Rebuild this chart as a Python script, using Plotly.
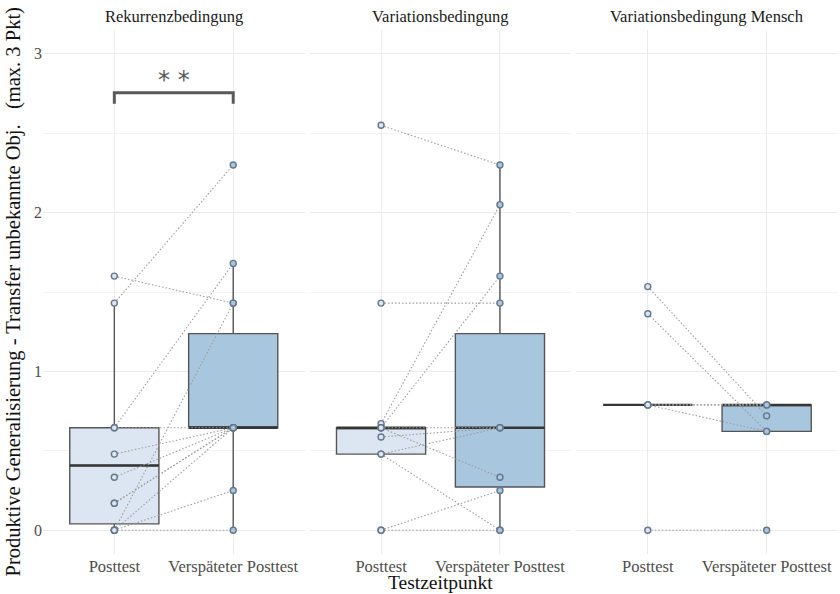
import plotly.graph_objects as go

# Test points and facet panels
conditions = ["Rekurrenzbedingung", "Variationsbedingung", "Variationsbedingung Mensch"]
timepoints = ["Posttest", "Verspäteter Posttest"]

# Paired scores per child: (Posttest, Verspäteter Posttest)
rek_post = [1.60, 1.43, 0.645, 0.0, 0.645, 0.479, 0.333, 0.17, 0.17, 0.0, 0.0, 0.0]
rek_late = [1.43, 2.30, 1.68, 1.43, 0.645, 0.645, 0.645, 0.645, 0.645, 0.645, 0.25, 0.0]

var_post = [2.55, 1.43, 0.671, 0.645, 0.645, 0.587, 0.479, 0.645, 0.479, 0.0, 0.0]
var_late = [2.30, 1.43, 2.05, 1.60, 0.645, 0.645, 0.645, 0.333, 0.0, 0.25, 0.0]

men_post = [1.534, 1.363, 0.789, 0.789, 0.789, 0.0]
men_late = [0.72, 0.622, 0.789, 0.622, 0.789, 0.0]

# Box statistics per panel: [Posttest, Verspäteter Posttest]
box_q1 = [[0.04, 0.645], [0.479, 0.272], [0.789, 0.622]]
box_med = [[0.407, 0.645], [0.645, 0.645], [0.789, 0.789]]
box_q3 = [[0.645, 1.238], [0.645, 1.238], [0.789, 0.789]]
box_lo = [[0.0, 0.0], [0.479, 0.0], [0.789, 0.622]]
box_hi = [[1.43, 1.68], [0.671, 2.30], [0.789, 0.789]]

pairs = [(rek_post, rek_late), (var_post, var_late), (men_post, men_late)]

FILL = ["#dce6f2", "#a8c6de"]
EDGE = "#555555"
PT_EDGE = "#65778a"
SERIF = "Liberation Serif"
BOX_W = 0.75

fig = go.Figure()

for p in range(3):
    xa = "x" if p == 0 else f"x{p + 1}"
    for t in range(2):
        fig.add_trace(go.Box(
            x=[timepoints[t]], q1=[box_q1[p][t]], median=[box_med[p][t]],
            q3=[box_q3[p][t]], lowerfence=[box_lo[p][t]], upperfence=[box_hi[p][t]],
            fillcolor=FILL[t], line=dict(color=EDGE, width=1.4), whiskerwidth=0,
            width=BOX_W, boxpoints=False, xaxis=xa, yaxis="y", showlegend=False,
            hoverinfo="skip"))
        # heavier median bar: a collapsed box sitting at the median
        m = box_med[p][t]
        fig.add_trace(go.Box(
            x=[timepoints[t]], q1=[m], median=[m], q3=[m], lowerfence=[m], upperfence=[m],
            fillcolor="rgba(0,0,0,0)", line=dict(color="#363636", width=2.4),
            whiskerwidth=0, width=BOX_W, boxpoints=False, xaxis=xa, yaxis="y",
            showlegend=False, hoverinfo="skip"))
    post, late = pairs[p]
    for a, b in zip(post, late):
        fig.add_trace(go.Scatter(
            x=timepoints, y=[a, b], mode="lines", xaxis=xa, yaxis="y",
            line=dict(color="#9c9c9c", width=1.1, dash="1.5px,2px"),
            showlegend=False, hoverinfo="skip"))
    for t, vals in enumerate([post, late]):
        fig.add_trace(go.Scatter(
            x=[timepoints[t]] * len(vals), y=vals, mode="markers", xaxis=xa, yaxis="y",
            marker=dict(size=6, color=FILL[t], line=dict(color=PT_EDGE, width=1.4)),
            showlegend=False, hoverinfo="skip"))

# Significance bracket between the two test points in the first panel
fig.add_trace(go.Scatter(
    x=[timepoints[0], timepoints[0], timepoints[1], timepoints[1]],
    y=[2.685, 2.755, 2.755, 2.685], mode="lines", xaxis="x", yaxis="y",
    line=dict(color="#595959", width=3), showlegend=False, hoverinfo="skip"))
fig.add_annotation(x=0.5, y=2.755, xref="x", yref="y", text="* *", showarrow=False,
                   yanchor="bottom", yshift=-3,
                   font=dict(family="DejaVu Sans", size=24, color="#595959"))

# Panel domains
L, R, T, B = 42.6, 838.4, 30, 554
W, H = 840, 594
gap = 5.2
pw = (R - L - 2 * gap) / 3
domains = []
for p in range(3):
    x0 = L + p * (pw + gap)
    d0 = max(0.0, (x0 - L) / (R - L))
    d1 = min(1.0, (x0 + pw - L) / (R - L))
    domains.append([round(d0, 6), round(d1, 6)])

xcommon = dict(type="category", categoryorder="array", categoryarray=timepoints,
               range=[-0.6, 1.6], showgrid=True, gridcolor="#ebebeb", gridwidth=1,
               zeroline=False, showline=False, ticks="", automargin=False,
               tickfont=dict(family=SERIF, size=16.5, color="#4d4d4d"))

layout = dict(
    width=W, height=H, margin=dict(l=L, r=W - R, t=T, b=H - B),
    paper_bgcolor="white", plot_bgcolor="white", boxmode="overlay",
    yaxis=dict(range=[-0.15, 3.15], tickvals=[0, 1, 2, 3], showgrid=True,
               gridcolor="#ebebeb", gridwidth=1, zeroline=False, ticks="",
               automargin=False,
               minor=dict(tickvals=[0.5, 1.5, 2.5], showgrid=True, gridcolor="#f3f3f3",
                          gridwidth=1),
               tickfont=dict(family=SERIF, size=16, color="#4d4d4d")),
    showlegend=False,
)
for p in range(3):
    key = "xaxis" if p == 0 else f"xaxis{p + 1}"
    layout[key] = dict(xcommon, domain=domains[p], anchor="y")
fig.update_layout(**layout)

# Facet strip labels
for p in range(3):
    fig.add_annotation(x=sum(domains[p]) / 2, y=1, xref="paper", yref="paper",
                       xanchor="center", text=conditions[p], showarrow=False,
                       yanchor="bottom", yshift=2,
                       font=dict(family=SERIF, size=16.5, color="#1a1a1a"))

# Axis titles
fig.add_annotation(x=0.5, y=0, xref="paper", yref="paper", xanchor="center",
                   yanchor="middle", yshift=-(582 - B), text="Testzeitpunkt",
                   showarrow=False, font=dict(family=SERIF, size=19.5, color="#111111"))
fig.add_annotation(x=-(L - 13) / (R - L), y=0.5, xref="paper", yref="paper",
                   xanchor="center", yanchor="middle", textangle=-90,
                   text="Produktive Generalisierung - Transfer unbekannte Obj.\u00a0\u00a0 (max. 3 Pkt)",
                   showarrow=False, font=dict(family=SERIF, size=20.5, color="#111111"))

fig.write_html("out.html")
